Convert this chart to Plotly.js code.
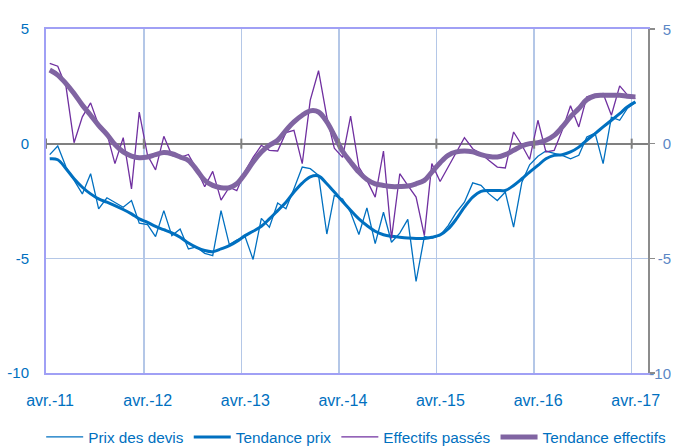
<!DOCTYPE html>
<html>
<head>
<meta charset="utf-8">
<script src="https://cdn.plot.ly/plotly-3.0.1.min.js"></script>
<style>html,body{margin:0;padding:0;background:#fff;}#chart{width:673px;height:447px;}</style>
</head>
<body>
<div id="chart"></div>
<script>
// Monthly categories: avr. 2011 .. avr. 2017 (73 months)
var startYear = 2011, startMonth = 4, nMonths = 73;
var months = [];
for (var i = 0; i < nMonths; i++) {
  var m = startMonth - 1 + i;
  var y = startYear + Math.floor(m / 12);
  var mm = (m % 12) + 1;
  months.push(y + '-' + (mm < 10 ? '0' + mm : mm) + '-15');
}

var prixDevis = [-0.48,-0.10,-1.02,-1.60,-2.19,-1.31,-2.84,-2.36,-2.55,-2.77,-2.48,-3.47,
  -3.53,-4.05,-2.92,-4.01,-3.72,-4.59,-4.50,-4.78,-4.88,-2.92,-4.40,-4.20,
  -4.05,-5.05,-3.26,-3.64,-2.59,-2.84,-1.97,-1.02,-1.09,-1.38,-3.94,-2.26,
  -2.41,-3.00,-3.96,-2.80,-4.36,-2.99,-4.30,-3.90,-3.30,-6.01,-4.05,-4.12,
  -4.00,-3.57,-2.99,-2.55,-1.71,-1.82,-2.19,-2.48,-2.11,-3.64,-1.68,-0.92,
  -0.55,-0.32,-0.42,-0.51,-0.66,-0.51,0.29,0.46,-0.87,1.16,1.02,1.53,1.80];

var tendancePrix = [-0.66,-0.70,-1.09,-1.53,-1.90,-2.19,-2.41,-2.55,-2.70,-2.87,-3.06,-3.28,
  -3.43,-3.61,-3.75,-3.89,-4.08,-4.33,-4.52,-4.66,-4.71,-4.59,-4.45,-4.26,
  -4.01,-3.82,-3.60,-3.28,-2.92,-2.55,-2.11,-1.72,-1.45,-1.41,-1.75,-2.11,
  -2.52,-2.90,-3.28,-3.57,-3.82,-3.97,-4.04,-4.08,-4.11,-4.13,-4.13,-4.08,
  -3.98,-3.72,-3.28,-2.77,-2.33,-2.08,-2.04,-2.04,-2.04,-1.82,-1.53,-1.24,
  -0.95,-0.66,-0.51,-0.48,-0.36,-0.15,0.15,0.44,0.73,1.02,1.31,1.60,1.82];

var effectifsPasses = [3.50,3.38,2.48,0.04,1.17,1.78,0.80,0.44,-0.87,0.26,-1.97,1.38,
  -0.51,-1.14,0.32,-0.51,-0.61,-0.47,-1.10,-1.88,-1.21,-2.46,-1.90,-2.05,
  -1.20,-0.60,-0.07,-0.29,-0.32,0.48,0.58,-0.87,1.90,3.18,1.17,-0.20,
  -0.60,1.20,-1.02,-1.60,-2.33,-0.32,-4.13,-1.31,-1.82,-2.33,-4.01,-0.87,
  -1.65,-1.02,-0.36,0.26,-0.22,-0.44,-0.73,-1.02,-1.06,0.51,-0.07,-0.69,
  1.02,-0.36,-0.29,0.58,1.65,0.73,2.04,2.14,2.19,1.24,2.52,2.14,1.97];

var tendanceEffectifs = [3.21,2.99,2.62,2.19,1.68,1.24,0.80,0.41,-0.04,-0.36,-0.54,-0.61,
  -0.58,-0.48,-0.39,-0.44,-0.58,-0.73,-1.13,-1.60,-1.82,-1.92,-1.92,-1.75,
  -1.31,-0.80,-0.36,-0.07,0.15,0.58,0.95,1.24,1.43,1.38,0.95,0.36,
  -0.33,-0.80,-1.24,-1.56,-1.75,-1.82,-1.87,-1.87,-1.85,-1.75,-1.60,-1.24,
  -0.83,-0.51,-0.36,-0.32,-0.36,-0.48,-0.56,-0.58,-0.48,-0.29,-0.10,0.00,
  0.04,0.15,0.36,0.73,1.17,1.53,1.92,2.09,2.11,2.11,2.11,2.07,2.04];

var xTickVals = ['2011-04-01','2012-04-01','2013-04-01','2014-04-01','2015-04-01','2016-04-01','2017-04-01'];
var xTickText = ['avr.-11','avr.-12','avr.-13','avr.-14','avr.-15','avr.-16','avr.-17'];
var yTickVals = [-10,-5,0,5];
var yTickText = ['-10','-5','0','5'];

var FONT = 'Liberation Sans, Arial, sans-serif';
var BLUE = '#0070C0', PURPLE_T = '#7030A0', PURPLE = '#8064A2';

var traces = [
  {x: months, y: prixDevis, name: 'Prix des devis', type: 'scatter', mode: 'lines',
   line: {color: BLUE, width: 1.3}},
  {x: months, y: tendancePrix, name: 'Tendance prix', type: 'scatter', mode: 'lines',
   line: {color: BLUE, width: 3, shape: 'spline', smoothing: 1}},
  {x: months, y: effectifsPasses, name: 'Effectifs passés', type: 'scatter', mode: 'lines',
   yaxis: 'y2', line: {color: PURPLE_T, width: 1.3}},
  {x: months, y: tendanceEffectifs, name: 'Tendance effectifs', type: 'scatter', mode: 'lines',
   yaxis: 'y2', line: {color: PURPLE, width: 5, shape: 'spline', smoothing: 1}}
];

// small grey tick marks crossing the zero line at each April
var shapes = xTickVals.map(function (d) {
  return {type: 'line', xref: 'x', yref: 'y', x0: d, x1: d, y0: -0.22, y1: 0.22,
          line: {color: '#808080', width: 2}, layer: 'above'};
});

// right-hand axis labels, right-aligned like the original
var annotations = yTickVals.map(function (v, k) {
  return {xref: 'paper', yref: 'y', x: 1.04, y: v, xanchor: 'right', yanchor: 'middle',
          align: 'right', width: 24, text: yTickText[k], showarrow: false, borderpad: 0,
          font: {family: FONT, size: 15, color: '#5B87C5'}};
});

var layout = {
  width: 673, height: 447,
  margin: {l: 46, r: 25, t: 29, b: 74, autoexpand: false},
  paper_bgcolor: '#ffffff', plot_bgcolor: '#ffffff',
  showlegend: true,
  legend: {orientation: 'h', x: -0.008, xanchor: 'left', y: -0.186, yanchor: 'middle',
           font: {family: FONT, size: 15.3, color: BLUE}, itemwidth: 37, tracegroupgap: 0},
  xaxis: {type: 'date', range: ['2011-04-01', '2017-06-01'],
          tickmode: 'array', tickvals: xTickVals, ticktext: xTickText,
          showgrid: true, gridcolor: '#B4C7E7', gridwidth: 1.5,
          showline: true, linecolor: '#A0A0F5', linewidth: 2, mirror: true,
          ticks: '', ticklabelshift: 4, ticklabelstandoff: 12,
          tickfont: {family: FONT, size: 16, color: BLUE}, zeroline: false},
  yaxis: {range: [-10, 5], tickmode: 'array', tickvals: yTickVals, ticktext: yTickText,
          showgrid: true, gridcolor: '#B4C7E7', gridwidth: 1.5,
          zeroline: true, zerolinecolor: '#808080', zerolinewidth: 2,
          showline: true, linecolor: '#A0A0F5', linewidth: 2, ticks: '',
          ticklabelstandoff: 12,
          tickfont: {family: FONT, size: 15, color: BLUE}},
  yaxis2: {range: [-10, 5], overlaying: 'y', side: 'right', tickmode: 'array', tickvals: yTickVals,
           showgrid: false, zeroline: false, showline: true, linecolor: '#8C8C8C', linewidth: 2,
           ticks: 'outside', ticklen: 5, tickcolor: '#8C8C8C', tickwidth: 1.5, showticklabels: false},
  shapes: shapes,
  annotations: annotations
};

Plotly.newPlot('chart', traces, layout, {staticPlot: true, displayModeBar: false});
</script>
</body>
</html>
